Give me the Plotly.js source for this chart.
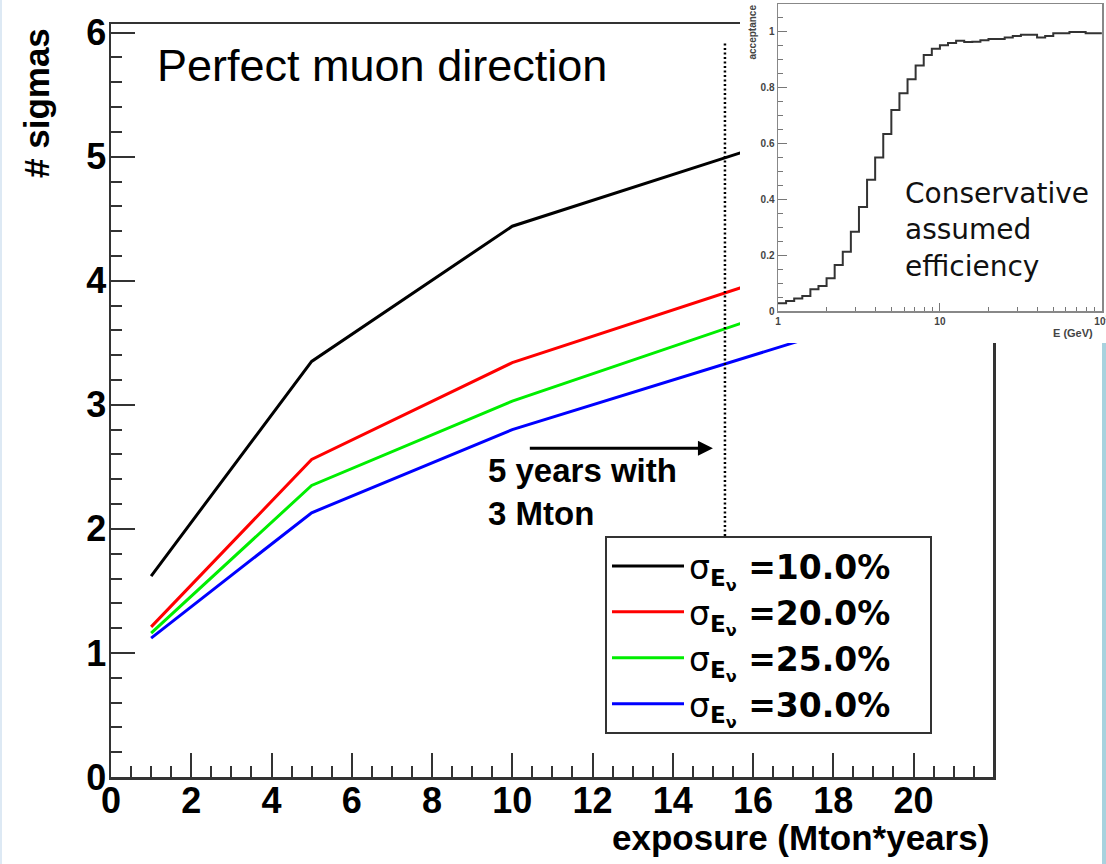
<!DOCTYPE html>
<html><head><meta charset="utf-8">
<script src="https://cdn.plot.ly/plotly-3.0.1.min.js"></script>
<style>html,body{margin:0;padding:0;background:#fff;} #chart{width:1106px;height:864px;}</style>
</head><body><div id="chart"></div>
<script>
// ---- main chart data ----
const exposure = [1, 5, 10, 15, 20];
const sigma10 = [1.62, 3.35, 4.44, 4.96, 5.48];
const sigma20 = [1.21, 2.56, 3.34, 3.87, 4.40];
const sigma25 = [1.16, 2.35, 3.03, 3.58, 4.13];
const sigma30 = [1.12, 2.13, 2.80, 3.30, 3.80];
const seriesLabels = ['=10.0%', '=20.0%', '=25.0%', '=30.0%'];
const seriesColors = ['#000000', '#ff0000', '#00ee00', '#0000ff'];
const refLineX = [15.3, 15.3];
const refLineY = [1.0, 5.92];
const arrowStart = [10.4, 2.65];
const arrowEnd = [15.0, 2.65];

// ---- inset data (acceptance vs E, 40 log bins from 1 to 100 GeV) ----
const accBinsLog10 = {n: 40, min: 0, max: 2};
const acceptance = [0.028, 0.036, 0.045, 0.054, 0.078, 0.09, 0.117, 0.165, 0.212, 0.284,
  0.373, 0.47, 0.55, 0.634, 0.72, 0.78, 0.83, 0.88, 0.917, 0.94,
  0.952, 0.96, 0.968, 0.964, 0.965, 0.97, 0.975, 0.975, 0.98, 0.985,
  0.99, 0.99, 0.98, 0.985, 0.995, 0.995, 1.0, 1.0, 0.995, 0.995];
const insetXTickVals = [1, 10, 100];
const insetXTickText = ['1', '10', '10<sup>2</sup>'];
const insetXMinor = [2,3,4,5,6,7,8,9,20,30,40,50,60,70,80,90];

const W = 1106, H = 864;
const px = v => v / W, py = v => 1 - v / H;

const edges = [];
for (let i = 0; i <= accBinsLog10.n; i++) {
  edges.push(Math.pow(10, accBinsLog10.min + (accBinsLog10.max - accBinsLog10.min) * i / accBinsLog10.n));
}
const stepY = acceptance.concat([acceptance[acceptance.length - 1]]);

const series = [sigma10, sigma20, sigma25, sigma30];
const traces = series.map((ys, i) => ({
  type: 'scatter', mode: 'lines', x: exposure, y: ys, xaxis: 'x', yaxis: 'y',
  line: {color: seriesColors[i], width: 3},
  name: '<span style="font-weight:normal">σ</span><sub>E<sub>ν</sub></sub> ' + seriesLabels[i] + '&nbsp;&nbsp;&nbsp;',
  showlegend: true, hoverinfo: 'skip'
}));
traces.push({type: 'scatter', mode: 'lines', x: refLineX, y: refLineY, xaxis: 'x', yaxis: 'y',
  line: {color: '#000', width: 2.5, dash: '2px,2.5px'}, showlegend: false, hoverinfo: 'skip'});
// cover subplot (white background of the inset pad)
traces.push({type: 'scatter', mode: 'lines', x: [], y: [], xaxis: 'x2', yaxis: 'y2', showlegend: false, hoverinfo: 'skip'});
// inset histogram
traces.push({type: 'scatter', mode: 'lines', x: edges, y: stepY, xaxis: 'x3', yaxis: 'y3',
  line: {color: '#333', width: 2, shape: 'hv'}, showlegend: false, hoverinfo: 'skip'});

const axCol = '#333';
const bold = {family: 'Liberation Sans, Arial, sans-serif', weight: 'bold', color: '#000'};

const layout = {
  width: W, height: H, margin: {l: 0, r: 0, t: 0, b: 0},
  paper_bgcolor: '#fff', plot_bgcolor: '#fff', hovermode: false,
  font: {family: 'Liberation Sans, Arial, sans-serif', color: '#000'},
  xaxis: {domain: [px(111), px(993)], range: [0, 21.98], anchor: 'y', showgrid: false, zeroline: false,
    showline: true, mirror: true, linecolor: axCol, linewidth: 2.5,
    ticks: 'inside', ticklen: 24, tickwidth: 2, tickcolor: axCol, tick0: 0, dtick: 2,
    ticklabelstandoff: -10,
    minor: {dtick: 0.5, tick0: 0, ticklen: 11, tickwidth: 2, tickcolor: axCol, ticks: 'inside'},
    tickfont: Object.assign({size: 36}, bold), fixedrange: true},
  yaxis: {domain: [py(777), py(24)], range: [0, 6.07], anchor: 'x', showgrid: false, zeroline: false,
    showline: true, mirror: true, linecolor: axCol, linewidth: 2.5,
    ticks: 'inside', ticklen: 24, tickwidth: 2, tickcolor: axCol, tick0: 0, dtick: 1,
    ticklabelstandoff: -5,
    minor: {dtick: 0.2, tick0: 0, ticklen: 11, tickwidth: 2, tickcolor: axCol, ticks: 'inside'},
    tickfont: Object.assign({size: 36}, bold), fixedrange: true},
  xaxis2: {domain: [px(740), 1], range: [0, 1], anchor: 'y2', visible: false, fixedrange: true},
  yaxis2: {domain: [py(343), 1], range: [0, 1], anchor: 'x2', visible: false, fixedrange: true},
  xaxis3: {domain: [px(778), px(1102)], type: 'log', range: [0, 2.001], anchor: 'y3', showgrid: false, zeroline: false,
    showline: true, mirror: true, linecolor: '#888', linewidth: 1.5,
    ticks: 'inside', ticklen: 8, tickwidth: 1, tickcolor: '#777', tickmode: 'array',
    tickvals: insetXTickVals, ticktext: insetXTickText, ticklabeloverflow: 'allow',
    minor: {tickmode: 'array', tickvals: insetXMinor, ticklen: 4, tickwidth: 1, tickcolor: '#777', ticks: 'inside'},
    tickfont: {size: 10, weight: 'bold', color: '#444'}, fixedrange: true},
  yaxis3: {domain: [py(311), py(4)], range: [0, 1.1], anchor: 'x3', showgrid: false, zeroline: false,
    showline: true, mirror: true, linecolor: '#888', linewidth: 1.5,
    ticks: 'inside', ticklen: 9, tickwidth: 1, tickcolor: '#777', tick0: 0, dtick: 0.2,
    minor: {dtick: 0.05, tick0: 0, ticklen: 5, tickwidth: 1, tickcolor: '#777', ticks: 'inside'},
    tickfont: {size: 10, weight: 'bold', color: '#444'}, fixedrange: true},
  legend: {x: px(605), y: py(536), xanchor: 'left', yanchor: 'top', bgcolor: '#fff',
    bordercolor: '#333', borderwidth: 2,
    font: {family: 'DejaVu Sans, sans-serif', size: 33, weight: 'bold', color: '#000'},
    itemwidth: 72, tracegroupgap: 0},
  shapes: [
    {type: 'rect', xref: 'paper', yref: 'paper', x0: px(1102), x1: 1, y0: 0, y1: py(340),
      fillcolor: '#a8d2de', line: {width: 0}, layer: 'below'},
    {type: 'rect', xref: 'paper', yref: 'paper', x0: 0, x1: px(2), y0: 0, y1: 1,
      fillcolor: '#dde9f4', line: {width: 0}, layer: 'below'}
  ],
  annotations: [
    {text: 'Perfect muon direction', xref: 'paper', yref: 'paper', x: px(155), y: py(66),
      xanchor: 'left', yanchor: 'middle', showarrow: false,
      font: {family: 'Liberation Sans, Arial, sans-serif', size: 45, color: '#000'}},
    {text: '5 years with<br>3 Mton', xref: 'paper', yref: 'paper', x: px(486), y: py(492),
      xanchor: 'left', yanchor: 'middle', align: 'left', showarrow: false,
      font: Object.assign({size: 33}, bold)},
    {text: '', xref: 'x', yref: 'y', x: arrowEnd[0], y: arrowEnd[1], axref: 'x', ayref: 'y',
      ax: arrowStart[0], ay: arrowStart[1], showarrow: true, arrowhead: 2, arrowsize: 1,
      arrowwidth: 3, arrowcolor: '#000'},
    {text: '# sigmas', xref: 'paper', yref: 'paper', x: px(36), y: py(103), textangle: -90,
      xanchor: 'center', yanchor: 'middle', showarrow: false, font: Object.assign({size: 35}, bold)},
    {text: 'exposure (Mton*years)', xref: 'paper', yref: 'paper', x: px(991), y: py(837),
      xanchor: 'right', yanchor: 'middle', showarrow: false, font: Object.assign({size: 35}, bold)},
    {text: 'Conservative<br>assumed<br>efficiency', xref: 'paper', yref: 'paper', x: px(903), y: py(230),
      xanchor: 'left', yanchor: 'middle', align: 'left', showarrow: false,
      font: {family: 'DejaVu Sans, sans-serif', size: 28, color: '#111'}},
    {text: 'acceptance', xref: 'paper', yref: 'paper', x: px(752), y: py(3), textangle: -90,
      xanchor: 'center', yanchor: 'top', showarrow: false,
      font: {family: 'Liberation Sans, Arial, sans-serif', size: 10, weight: 'bold', color: '#444'}},
    {text: 'E (GeV)', xref: 'paper', yref: 'paper', x: px(1095), y: py(333),
      xanchor: 'right', yanchor: 'middle', showarrow: false,
      font: {family: 'Liberation Sans, Arial, sans-serif', size: 11, weight: 'bold', color: '#444'}}
  ]
};

Plotly.newPlot('chart', traces, layout, {staticPlot: true, displayModeBar: false});
</script>
</body></html>
